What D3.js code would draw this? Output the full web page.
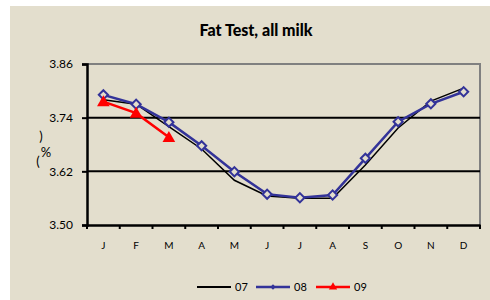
<!DOCTYPE html>
<html>
<head>
<meta charset="utf-8">
<script src="https://cdn.jsdelivr.net/npm/d3@7"></script>
<style>
  body { margin: 0; background: #fff; }
  text { font-family: Lato, "DejaVu Sans", sans-serif; }
</style>
</head>
<body>
<div id="chart"></div>
<script>
// data
const months = ["J", "F", "M", "A", "M", "J", "J", "A", "S", "O", "N", "D"];
const yTicks = [3.50, 3.62, 3.74, 3.86];
const s07 = [3.78, 3.77, 3.72, 3.67, 3.60, 3.565, 3.56, 3.56, 3.634, 3.717, 3.777, 3.806];
const s08 = [3.791, 3.77, 3.73, 3.677, 3.619, 3.569, 3.561, 3.567, 3.649, 3.731, 3.771, 3.798];
const s09 = [3.776, 3.75, 3.696];
const seriesNames = ["07", "08", "09"];

const width = 490, height = 300;
const svg = d3.select("#chart")
  .append("svg")
    .attr("width", width)
    .attr("height", height);

// background panel
svg.append("rect")
  .attr("x", 10).attr("y", 6)
  .attr("width", width - 10).attr("height", height - 6)
  .attr("fill", "#e3decd");

const plot = { left: 87, right: 480, top: 64, bottom: 225 };

const x = d3.scaleBand()
  .domain(d3.range(12))
  .range([plot.left, plot.right]);

const y = d3.scaleLinear()
  .domain([3.50, 3.86])
  .range([plot.bottom, plot.top]);

// title
svg.append("text")
  .attr("x", 256).attr("y", 36)
  .attr("text-anchor", "middle")
  .style("font-size", "16px")
  .style("font-weight", "900")
  .text("Fat Test, all milk");

// border top/right
svg.append("path")
  .attr("d", `M${plot.left},${plot.top}H${plot.right}V${plot.bottom}`)
  .attr("fill", "none")
  .attr("stroke", "#808080")
  .attr("stroke-width", 2);

// gridlines
svg.append("g")
  .selectAll("line")
  .data([3.62, 3.74])
  .join("line")
    .attr("x1", plot.left).attr("x2", plot.right)
    .attr("y1", d => y(d)).attr("y2", d => y(d))
    .attr("stroke", "#000")
    .attr("stroke-width", 2);

// y axis
const yAxis = svg.append("g")
  .attr("transform", `translate(${plot.left},0)`)
  .call(d3.axisLeft(y).tickValues(yTicks).tickFormat(d3.format(".2f")).tickSize(5).tickPadding(9));
yAxis.select(".domain").attr("stroke-width", 2.5);
yAxis.selectAll(".tick line").attr("stroke-width", 2);
yAxis.selectAll(".tick text").style("font-size", "12px").attr("fill", "#000");

// x axis
const xAxis = svg.append("g")
  .attr("transform", `translate(0,${plot.bottom})`)
  .call(d3.axisBottom(x).tickFormat(i => months[i]).tickSize(0).tickPadding(17));
xAxis.select(".domain").attr("stroke-width", 2.5);
xAxis.selectAll(".tick text").style("font-size", "10px").attr("fill", "#000");
svg.append("g")
  .selectAll("line")
  .data(d3.range(13))
  .join("line")
    .attr("x1", i => plot.left + i * x.step())
    .attr("x2", i => plot.left + i * x.step())
    .attr("y1", plot.bottom).attr("y2", plot.bottom + 4)
    .attr("stroke", "#000").attr("stroke-width", 2);

// y axis label
svg.append("g")
  .selectAll("text")
  .data([")", "%", "("])
  .join("text")
    .attr("x", (d, i) => [41, 46, 38][i])
    .attr("y", (d, i) => [141, 157, 166][i])
    .attr("text-anchor", "middle")
    .style("font-size", "13px")
    .text(d => d);

const line = d3.line()
  .x((d, i) => x(i) + x.bandwidth() / 2)
  .y(d => y(d));

// 07
svg.append("path")
  .datum(s07)
  .attr("d", line)
  .attr("fill", "none")
  .attr("stroke", "#000")
  .attr("stroke-width", 1.5);

// 08
svg.append("path")
  .datum(s08)
  .attr("d", line)
  .attr("fill", "none")
  .attr("stroke", "#333399")
  .attr("stroke-width", 2.5);
const diamond = d3.symbol().type(d3.symbolSquare).size(42);
svg.append("g")
  .selectAll("path")
  .data(s08)
  .join("path")
    .attr("d", diamond)
    .attr("transform", (d, i) => `translate(${x(i) + x.bandwidth() / 2},${y(d)}) rotate(45)`)
    .attr("fill", "#e3decd")
    .attr("stroke", "#333399")
    .attr("stroke-width", 2);

// 09
svg.append("path")
  .datum(s09)
  .attr("d", line)
  .attr("fill", "none")
  .attr("stroke", "#ff0000")
  .attr("stroke-width", 2.5);
const tri = d3.symbol().type(d3.symbolTriangle).size(70);
svg.append("g")
  .selectAll("path")
  .data(s09)
  .join("path")
    .attr("d", tri)
    .attr("transform", (d, i) => `translate(${x(i) + x.bandwidth() / 2},${y(d) + 1})`)
    .attr("fill", "#ff0000");

// legend
const legendX = [197, 256, 316];
const legendColors = ["#000", "#333399", "#ff0000"];
const legend = svg.append("g")
  .selectAll("g")
  .data(seriesNames)
  .join("g")
    .attr("transform", (d, i) => `translate(${legendX[i]},287)`);
legend.append("line")
  .attr("x1", 0).attr("x2", 34)
  .attr("stroke", (d, i) => legendColors[i])
  .attr("stroke-width", (d, i) => i === 0 ? 2 : 2.5);
legend.filter((d, i) => i === 1)
  .append("path")
  .attr("d", d3.symbol().type(d3.symbolSquare).size(14))
  .attr("transform", "translate(17,0) rotate(45)")
  .attr("fill", "#333399");
legend.filter((d, i) => i === 2)
  .append("path")
  .attr("d", d3.symbol().type(d3.symbolTriangle).size(30))
  .attr("transform", "translate(17,0)")
  .attr("fill", "#ff0000");
legend.append("text")
  .attr("x", 38).attr("y", 4)
  .style("font-size", "11px")
  .text(d => d);
</script>
</body>
</html>
